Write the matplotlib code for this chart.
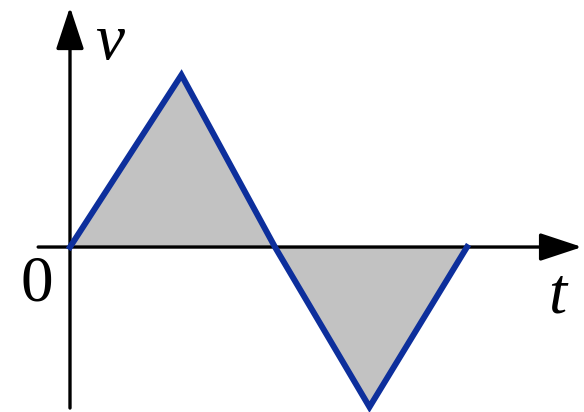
import numpy as np
import matplotlib.pyplot as plt

# triangle wave, v against t
t_points = [0.0, 1.12, 2.06, 3.01, 3.99]
v_points = [0.0, 1.0, 0.0, -0.93, 0.0]

line_color = '#0d2f9c'
fill_color = '#c2c2c2'

fig = plt.figure(figsize=(5.84, 4.12), dpi=100)
ax = fig.add_axes([0, 0, 1, 1])
ax.set_xlim(-0.7035, 5.166)
ax.set_ylim(-0.959, 1.436)
ax.axis('off')

t = np.array(t_points)
v = np.array(v_points)
ax.fill_between(t, v, 0, color=fill_color, linewidth=0, zorder=1)

# axes with arrow heads
arrow = dict(arrowstyle='-|>,head_length=26,head_width=8.6', mutation_scale=1,
             color='black', lw=2.4, shrinkA=0, shrinkB=0)
ax.annotate('', xy=(5.146, 0), xytext=(-0.32, 0), arrowprops=arrow, zorder=2)
ax.annotate('', xy=(0, 1.395), xytext=(0, -0.936), arrowprops=arrow, zorder=2)

ax.plot(t, v, color=line_color, lw=4.3, solid_joinstyle='miter', zorder=3)

serif = 'Liberation Serif'
ax.text(0.402, 1.186, 'v', fontsize=47, family=serif, style='italic',
        ha='center', va='center')
ax.text(4.894, -0.29, 't', fontsize=47, family=serif, style='italic',
        ha='center', va='center')
ax.text(-0.33, -0.22, '0', fontsize=47, family=serif, ha='center', va='center')

fig.savefig('out.png', dpi=100)
